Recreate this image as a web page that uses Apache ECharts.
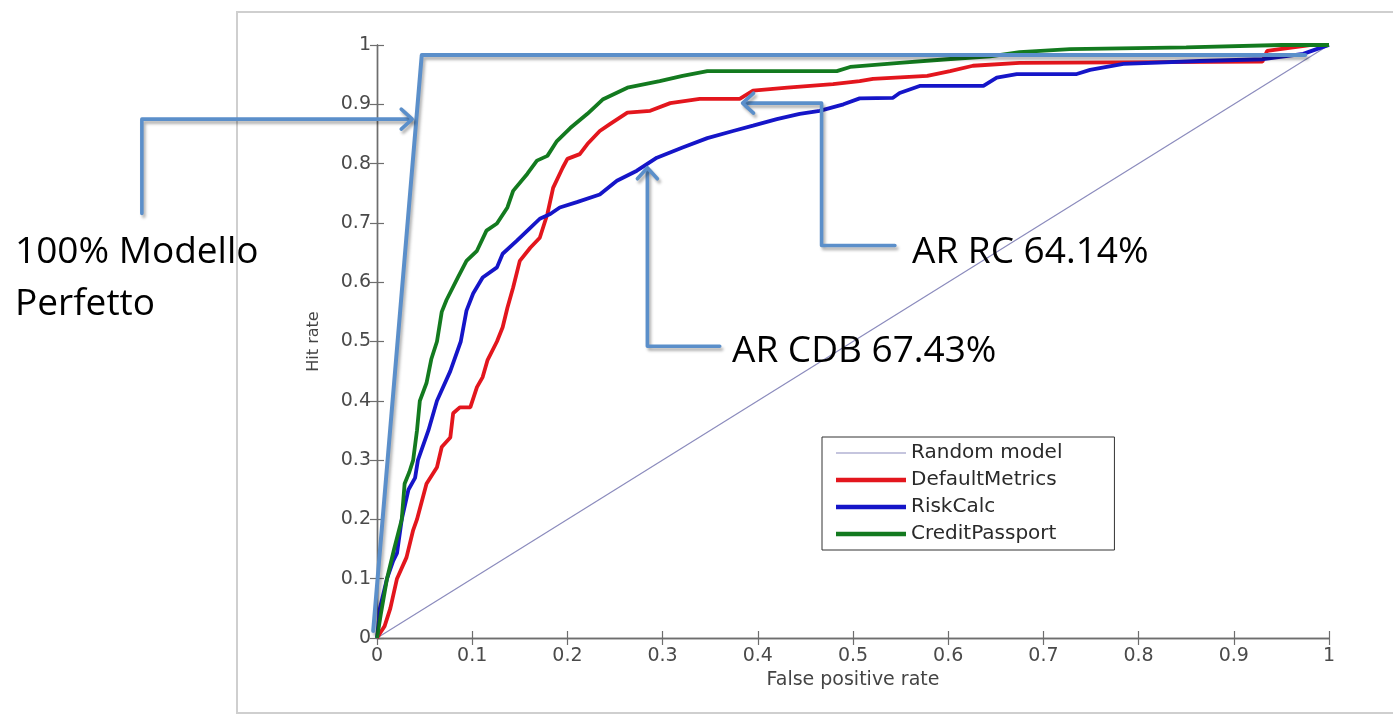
<!DOCTYPE html>
<html><head><meta charset="utf-8">
<script src="https://cdn.jsdelivr.net/npm/echarts@6/dist/echarts.min.js"></script>
<style>html,body{margin:0;padding:0;background:#fff}#c{width:1393px;height:714px}</style>
</head><body><div id="c"></div>
<script>
// ---- data ----
const seriesNames = ['Random model', 'DefaultMetrics', 'RiskCalc', 'CreditPassport'];
const seriesColors = ['#8b8bbd', '#e3161d', '#1515c8', '#137a1f'];
const randomModel = [[0, 0], [1, 1]];
const defaultMetrics = [[0,0],[0.004,0.01],[0.008,0.02],[0.014,0.05],[0.021,0.1],[0.031,0.136],[0.038,0.182],[0.042,0.2],[0.052,0.26],[0.063,0.288],[0.068,0.322],[0.077,0.338],[0.08,0.379],[0.087,0.389],[0.098,0.389],[0.105,0.423],[0.111,0.44],[0.116,0.468],[0.126,0.5],[0.132,0.524],[0.137,0.557],[0.143,0.591],[0.15,0.636],[0.161,0.658],[0.171,0.675],[0.179,0.715],[0.185,0.759],[0.195,0.793],[0.2,0.808],[0.213,0.816],[0.221,0.833],[0.234,0.855],[0.245,0.867],[0.263,0.886],[0.287,0.889],[0.308,0.902],[0.339,0.909],[0.381,0.909],[0.395,0.923],[0.431,0.928],[0.479,0.934],[0.507,0.939],[0.521,0.943],[0.578,0.948],[0.602,0.956],[0.626,0.965],[0.675,0.970],[0.93,0.972],[0.935,0.99],[0.98,1],[1,1]];
const riskCalc = [[0,0],[0.002,0.03],[0.003,0.05],[0.0105,0.1],[0.017,0.13],[0.021,0.143],[0.026,0.2],[0.033,0.25],[0.04,0.27],[0.043,0.3],[0.054,0.35],[0.063,0.4],[0.077,0.45],[0.088,0.5],[0.094,0.552],[0.101,0.581],[0.111,0.608],[0.126,0.625],[0.132,0.648],[0.147,0.67],[0.158,0.687],[0.171,0.707],[0.182,0.715],[0.192,0.726],[0.21,0.735],[0.234,0.748],[0.252,0.771],[0.273,0.788],[0.294,0.81],[0.321,0.827],[0.347,0.843],[0.374,0.855],[0.395,0.864],[0.42,0.875],[0.444,0.884],[0.465,0.889],[0.49,0.9],[0.507,0.91],[0.542,0.911],[0.549,0.919],[0.57,0.931],[0.637,0.931],[0.651,0.945],[0.672,0.951],[0.735,0.951],[0.749,0.958],[0.784,0.968],[0.864,0.973],[0.931,0.976],[0.973,0.985],[0.987,0.993],[1,1]];
const creditPassport = [[0,0],[0.004,0.04],[0.0105,0.1],[0.018,0.15],[0.026,0.2],[0.029,0.26],[0.034,0.28],[0.038,0.3],[0.042,0.35],[0.045,0.4],[0.052,0.43],[0.057,0.47],[0.063,0.5],[0.068,0.55],[0.073,0.57],[0.085,0.608],[0.094,0.636],[0.105,0.653],[0.115,0.687],[0.126,0.699],[0.137,0.726],[0.143,0.754],[0.158,0.783],[0.168,0.805],[0.179,0.813],[0.189,0.838],[0.203,0.86],[0.221,0.884],[0.237,0.908],[0.263,0.928],[0.297,0.939],[0.321,0.948],[0.347,0.956],[0.483,0.956],[0.497,0.963],[0.549,0.97],[0.599,0.976],[0.644,0.981],[0.675,0.988],[0.728,0.993],[0.85,0.996],[0.95,1],[1,1]];
// annotations (data coordinates): hand-drawn "perfect model" line and callout arrows (last point = arrow tip)
const perfectModel = [[-0.004, 0.012], [0.047, 0.983], [0.975, 0.983]];
const calloutPerfect = [[-0.247, 0.716], [-0.247, 0.875], [0.037, 0.875]];
const calloutRC = [[0.544, 0.662], [0.467, 0.662], [0.467, 0.902], [0.384, 0.902]];
const calloutCDB = [[0.36, 0.492], [0.284, 0.492], [0.284, 0.793]];
const noteTexts = ['100% Modello', 'Perfetto', 'AR RC 64.14%', 'AR CDB 67.43%'];

const ANNO = '#5b8fca';
const AX = '#6e6e6e';
const fmt = v => (v === 0 ? '0' : v === 1 ? '1' : v.toFixed(1));
const THICK = 'path://M0,0H70V4.5H0Z';
const THIN = 'path://M0,0H70V1.2H0Z';

const axisCommon = {
  type: 'value', min: 0, max: 1, interval: 0.1,
  axisLine: { show: true, lineStyle: { color: AX, width: 1.4 } },
  axisTick: { show: true, inside: true, length: 7, lineStyle: { color: AX, width: 1.2 } },
  splitLine: { show: false }
};

function lineSeries(i, data, width, z) {
  return { name: seriesNames[i], type: 'line', data: data, symbol: 'none', showSymbol: false, z: z,
    lineStyle: { color: seriesColors[i], width: width }, itemStyle: { color: seriesColors[i] } };
}

const chart = echarts.init(document.getElementById('c'), null, { renderer: 'canvas' });
chart.setOption({
  animation: false,
  backgroundColor: '#fff',
  grid: { left: 377, right: 64, top: 45, bottom: 76 },
  xAxis: [
    Object.assign({}, axisCommon, {
      position: 'bottom',
      name: 'False positive rate', nameLocation: 'middle', nameGap: 32,
      nameTextStyle: { fontFamily: 'DejaVu Sans', fontSize: 19, color: '#444' },
      axisLabel: { formatter: fmt, fontFamily: 'DejaVu Sans', fontSize: 19, color: '#4a4a4a', margin: 9 }
    }),
    Object.assign({}, axisCommon, { position: 'top', axisLabel: { show: false } })
  ],
  yAxis: [
    Object.assign({}, axisCommon, {
      position: 'left',
      name: 'Hit rate', nameLocation: 'middle', nameGap: 55, nameRotate: 90,
      nameTextStyle: { fontFamily: 'DejaVu Sans', fontSize: 16, color: '#444' },
      axisLabel: { formatter: fmt, fontFamily: 'DejaVu Sans', fontSize: 19, color: '#4a4a4a', margin: 6 }
    }),
    Object.assign({}, axisCommon, { position: 'right', axisLabel: { show: false } })
  ],
  legend: {
    data: seriesNames.map((n, i) => ({ name: n, icon: i === 0 ? THIN : THICK })),
    orient: 'vertical', left: 822, top: 437,
    backgroundColor: '#fff', borderColor: '#333', borderWidth: 1,
    padding: [6, 52, 6, 14],
    itemWidth: 70, itemHeight: 14, itemGap: 7,
    textStyle: { fontFamily: 'DejaVu Sans', fontSize: 20, color: '#2a2a2a', lineHeight: 20 },
    selectedMode: false
  },
  series: [
    lineSeries(0, randomModel, 1.2, 2),
    lineSeries(1, defaultMetrics, 3.8, 3),
    lineSeries(2, riskCalc, 3.8, 3),
    lineSeries(3, creditPassport, 3.8, 4)
  ]
});

// annotation overlay positioned through the chart's own axes
const toPx = p => chart.convertToPixel({ gridIndex: 0 }, p);
const shadow = { shadowColor: 'rgba(0,0,0,0.3)', shadowBlur: 3, shadowOffsetX: 2, shadowOffsetY: 3 };
function pathEl(points, width) {
  return { type: 'polyline', silent: true, z: 20, shape: { points: points },
    style: Object.assign({ stroke: ANNO, lineWidth: width, fill: 'none', lineJoin: 'round', lineCap: 'round' }, shadow) };
}
function callout(pts) {
  const px = pts.map(toPx);
  const tip = px[px.length - 1], prev = px[px.length - 2];
  const dx = tip[0] - prev[0], dy = tip[1] - prev[1];
  const L = Math.hypot(dx, dy), ux = dx / L, uy = dy / L, nx = -uy, ny = ux;
  const back = 11, half = 10;
  const head = [[tip[0] - back * ux + half * nx, tip[1] - back * uy + half * ny], tip,
                [tip[0] - back * ux - half * nx, tip[1] - back * uy - half * ny]];
  const shaft = px.slice(0, -1).concat([[tip[0] - 2 * ux, tip[1] - 2 * uy]]);
  return [pathEl(shaft, 3.6), pathEl(head, 3.6)];
}
const textFont = '37px "Open Sans"';
const graphics = [
  { type: 'rect', shape: { x: 237, y: 12, width: 1200, height: 701 }, silent: true, z: -10,
    style: { fill: 'none', stroke: '#cfcfcf', lineWidth: 2 } },
  pathEl(perfectModel.map(toPx), 4)
].concat(callout(calloutPerfect), callout(calloutRC), callout(calloutCDB), [
  { type: 'text', x: 15, y: 252, silent: true, z: 30,
    style: { text: noteTexts[0], font: textFont, fill: '#000', verticalAlign: 'middle' } },
  { type: 'text', x: 15, y: 304, silent: true, z: 30,
    style: { text: noteTexts[1], font: textFont, fill: '#000', verticalAlign: 'middle' } },
  { type: 'text', x: 912, y: 252, silent: true, z: 30,
    style: { text: noteTexts[2], font: textFont, fill: '#000', verticalAlign: 'middle' } },
  { type: 'text', x: 732, y: 351, silent: true, z: 30,
    style: { text: noteTexts[3], font: textFont, fill: '#000', verticalAlign: 'middle' } }
]);
chart.setOption({ graphic: graphics });
</script></body></html>
